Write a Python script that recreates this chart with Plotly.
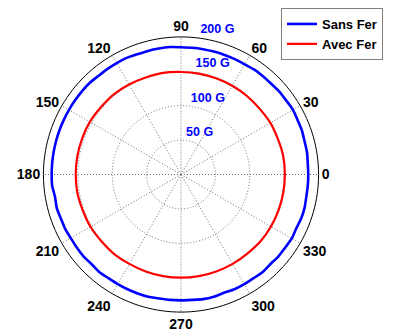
import plotly.graph_objects as go

blue_angles = list(range(0, 365, 5))
sans_fer = [185, 185, 186, 186, 187, 187, 188, 187, 187, 186, 186, 186, 185, 185, 185, 185, 185, 185,
            185, 186, 186, 186, 186, 187, 187, 187, 187, 188, 188, 188, 188, 188, 188, 188, 188, 188,
            188, 188, 186, 187, 186, 186, 185, 185, 185, 184, 185, 184, 184, 184, 184, 184, 183, 183,
            183, 183, 184, 184, 183, 184, 184, 184, 185, 184, 185, 185, 186, 185, 186, 186, 185, 185, 185]
red_angles = list(range(0, 370, 10))
avec_fer = [151, 151, 150, 150, 149, 149, 149, 149, 149, 149, 150, 150, 151, 152, 152, 153, 153, 153,
            153, 153, 152, 152, 151, 151, 150, 150, 150, 150, 150, 150, 150, 150, 151, 151, 151, 151, 151]

angle_ticks = list(range(0, 360, 30))
radial_ticks = [50, 100, 150, 200]
radial_labels = ["50 G", "100 G", "150 G", "200 G"]
r_max = radial_ticks[-1]
r_axis_max = 204

GRID = "#6e6e6e"
DOT = "1px,2px"

fig = go.Figure()
# spokes (dotted)
sp_r, sp_t = [], []
for a in angle_ticks:
    sp_r += [0, r_max, None]
    sp_t += [a, a, None]
fig.add_trace(go.Scatterpolar(r=sp_r, theta=sp_t, mode="lines", showlegend=False, hoverinfo="skip",
                              line=dict(color=GRID, width=1, dash=DOT)))
# outer circle
circ_t = list(range(0, 361, 2))
fig.add_trace(go.Scatterpolar(r=[r_max] * len(circ_t), theta=circ_t, mode="lines", showlegend=False,
                              hoverinfo="skip", line=dict(color="black", width=1)))

fig.add_trace(go.Scatterpolar(r=sans_fer, theta=blue_angles, mode="lines", name="Sans Fer",
                              line=dict(color="#0000ff", width=2.6, shape="spline", smoothing=0.6)))
fig.add_trace(go.Scatterpolar(r=avec_fer, theta=red_angles, mode="lines", name="Avec Fer",
                              line=dict(color="#ff0000", width=2.2, shape="spline", smoothing=1)))
fig.add_trace(go.Scatterpolar(r=[v + 2.5 for v in radial_ticks], theta=[82] * len(radial_ticks),
                              mode="text", text=radial_labels, textposition="top right",
                              textfont=dict(color="#0000ff", size=12.5, family="Liberation Sans", weight="bold"),
                              showlegend=False, hoverinfo="skip", cliponaxis=False))

# page body has an 8px margin: figure pixel = screen pixel - 8
cx, cy = 173, 166
R = 138 * r_axis_max / r_max
fig.update_layout(
    width=393, height=333,
    margin=dict(l=0, r=0, t=0, b=0),
    paper_bgcolor="white",
    font=dict(family="Liberation Sans", color="black"),
    polar=dict(
        domain=dict(x=[(cx - R) / 393, (cx + R) / 393], y=[(333 - cy - R) / 333, (333 - cy + R) / 333]),
        bgcolor="white",
        radialaxis=dict(range=[0, r_axis_max], tickvals=radial_ticks[:-1], showticklabels=False,
                        showline=False, ticks="", gridcolor=GRID, griddash=DOT, gridwidth=1),
        angularaxis=dict(tickvals=angle_ticks, ticktext=[str(a) for a in angle_ticks],
                         direction="counterclockwise", rotation=0,
                         showline=False, showgrid=False, ticks="",
                         tickfont=dict(size=14, family="Liberation Sans", weight="bold", color="black")),
    ),
    legend=dict(x=273 / 393, y=1 + 1 / 333, xanchor="left", yanchor="top",
                bordercolor="#808080", borderwidth=1, bgcolor="white",
                font=dict(size=13, family="Liberation Sans", weight="bold", color="black"),
                tracegroupgap=0),
)

fig.write_html("out.html")
